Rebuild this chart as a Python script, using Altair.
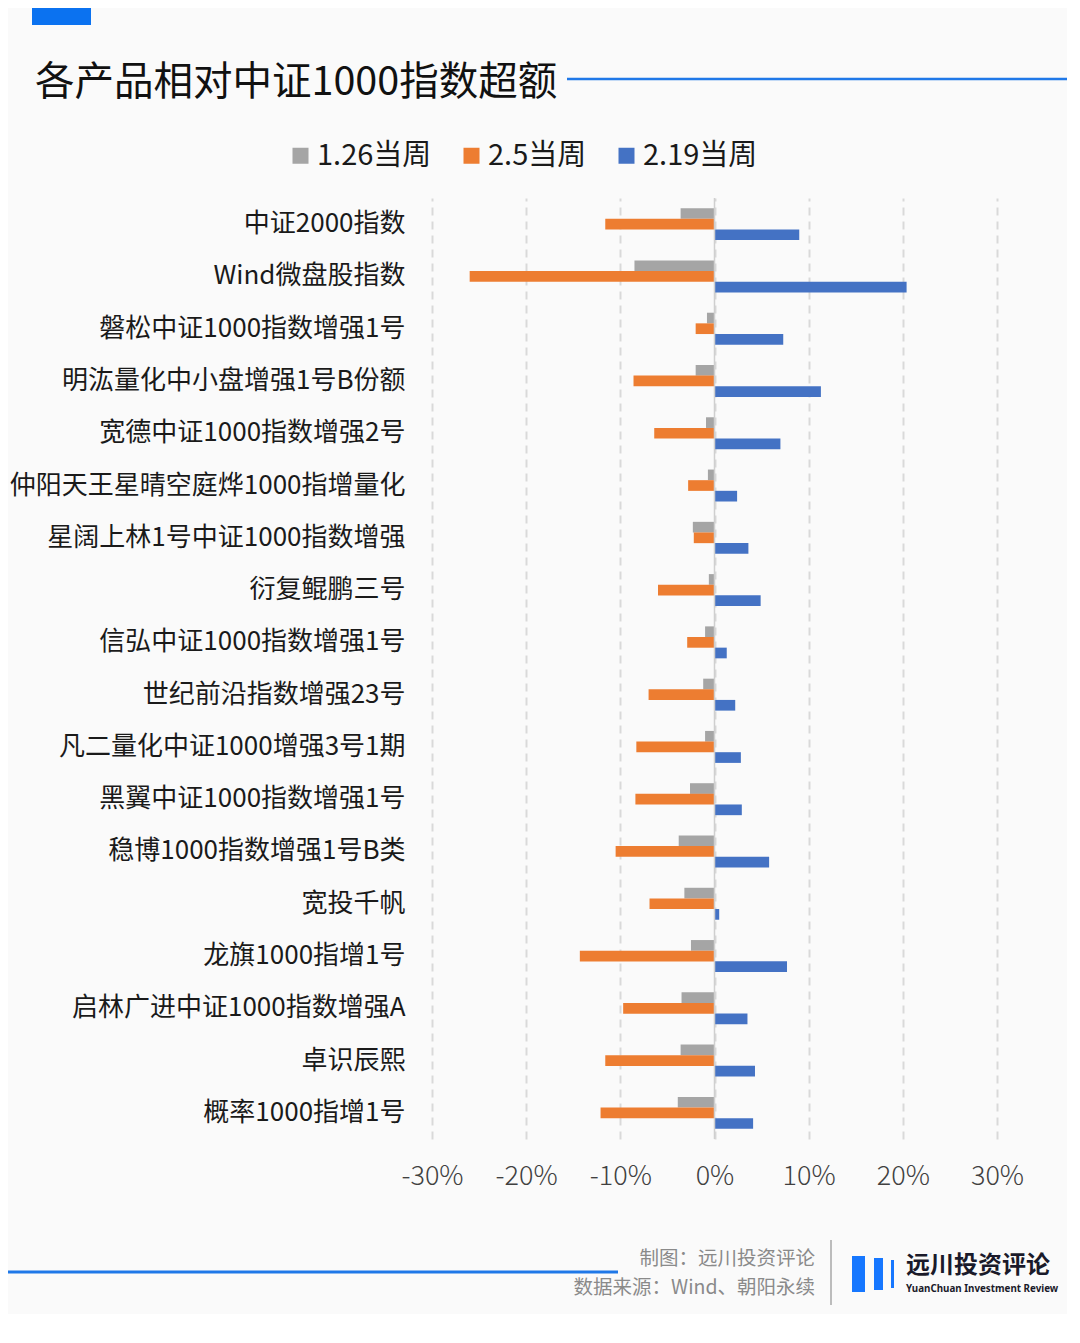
import altair as alt
import pandas as pd

# ---------------- data ----------------
categories = [
    "中证2000指数",
    "Wind微盘股指数",
    "磐松中证1000指数增强1号",
    "明汯量化中小盘增强1号B份额",
    "宽德中证1000指数增强2号",
    "仲阳天王星晴空庭烨1000指增量化",
    "星阔上林1号中证1000指数增强",
    "衍复鲲鹏三号",
    "信弘中证1000指数增强1号",
    "世纪前沿指数增强23号",
    "凡二量化中证1000增强3号1期",
    "黑翼中证1000指数增强1号",
    "稳博1000指数增强1号B类",
    "宽投千帆",
    "龙旗1000指增1号",
    "启林广进中证1000指数增强A",
    "卓识辰熙",
    "概率1000指增1号",
]
series = ["1.26当周", "2.5当周", "2.19当周"]
colors = ["#a5a5a5", "#ed7d31", "#4472c4"]

# excess return vs CSI 1000, in percent
w0126 = [-3.6, -8.5, -0.8, -2.0, -0.9, -0.7, -2.3, -0.6, -1.0, -1.2, -1.0, -2.6, -3.8, -3.2, -2.5, -3.5, -3.6, -3.9]
w0205 = [-11.6, -26.0, -2.0, -8.6, -6.4, -2.8, -2.2, -6.0, -2.9, -7.0, -8.3, -8.4, -10.5, -6.9, -14.3, -9.7, -11.6, -12.1]
w0219 = [9.0, 20.4, 7.3, 11.3, 7.0, 2.4, 3.6, 4.9, 1.3, 2.2, 2.8, 2.9, 5.8, 0.5, 7.7, 3.5, 4.3, 4.1]

x_ticks = [-0.3, -0.2, -0.1, 0.0, 0.1, 0.2, 0.3]

title_text = "各产品相对中证1000指数超额"
credit_text = "制图：远川投资评论"
source_text = "数据来源：Wind、朝阳永续"
logo_cn = "远川投资评论"
logo_en = "YuanChuan Investment Review"

rows = []
for s, vals in zip(series, [w0126, w0205, w0219]):
    for c, v in zip(categories, vals):
        rows.append({"category": c, "series": s, "value": v / 100.0})
df = pd.DataFrame(rows)

FONT = "Noto Sans CJK SC"
one = pd.DataFrame({"k": [0]})

# ---------------- main bars ----------------
bars = alt.Chart(df).mark_bar(size=10.7).encode(
    x=alt.X(
        "value:Q",
        scale=alt.Scale(domain=[-0.3, 0.3], nice=False, zero=False),
        axis=alt.Axis(
            values=x_ticks,
            labelExpr="(datum.value < 0 ? '-' : '') + format(abs(datum.value) * 100, '.0f') + '%'",
            title=None,
            domain=False,
            ticks=False,
            grid=True,
            gridDash=[8, 6],
            gridColor="#d9d9d9",
            gridWidth=2,
            labelFontSize=27,
            labelFont=FONT,
            labelFontWeight=300,
            labelColor="#404040",
            labelPadding=24,
            labelFlush=False,
            labelOverlap=False,
        ),
    ),
    y=alt.Y(
        "category:N",
        sort=categories,
        scale=alt.Scale(paddingInner=0.39, paddingOuter=0.195),
        axis=alt.Axis(
            title=None,
            domain=False,
            ticks=False,
            grid=False,
            labelFontSize=26,
            labelFont=FONT,
            labelColor="#1a1a1a",
            labelPadding=27,
            labelLimit=600,
        ),
    ),
    yOffset=alt.YOffset("series:N", sort=series, scale=alt.Scale(paddingInner=0, paddingOuter=0)),
    color=alt.Color(
        "series:N",
        sort=series,
        scale=alt.Scale(domain=series, range=colors),
        legend=alt.Legend(
            title=None,
            orient="none",
            direction="horizontal",
            legendX=-146,
            legendY=-57,
            symbolType="square",
            symbolSize=256,
            symbolStrokeWidth=0,
            labelFontSize=29,
            labelFont=FONT,
            labelColor="#1a1a1a",
            labelOffset=2,
            columnPadding=25,
            padding=0,
        ),
    ),
)

zero_rule = alt.Chart(one).mark_rule(color="#cfcfcf", strokeWidth=1.5).encode(
    x=alt.datum(0)
)

# ---------------- decorations ----------------
top_rect = alt.Chart(one).mark_rect(color="#0b72f0").encode(
    x=alt.value(-400), x2=alt.value(-341), y=alt.value(-190), y2=alt.value(-173)
)
title = alt.Chart(one).mark_text(
    text=title_text, font=FONT, fontSize=39.5, color="#111111", align="left", baseline="middle"
).encode(x=alt.value(-397), y=alt.value(-115))
title_line = alt.Chart(one).mark_rule(color="#1f78e8", strokeWidth=2.5).encode(
    x=alt.value(135), x2=alt.value(650), y=alt.value(-119)
)

credit = alt.Chart(one).mark_text(
    text=credit_text, font=FONT, fontSize=19.5, color="#8a8a8a", align="right", baseline="middle"
).encode(x=alt.value(383), y=alt.value(1061))
source = alt.Chart(one).mark_text(
    text=source_text, font=FONT, fontSize=19.5, color="#8a8a8a", align="right", baseline="middle"
).encode(x=alt.value(383), y=alt.value(1090))
foot_line = alt.Chart(one).mark_rule(color="#1f78e8", strokeWidth=3).encode(
    x=alt.value(-440), x2=alt.value(186), y=alt.value(1074)
)
vline = alt.Chart(one).mark_rule(color="#7f7f7f", strokeWidth=1).encode(
    x=alt.value(399), y=alt.value(1042), y2=alt.value(1107)
)
logo_b1 = alt.Chart(one).mark_rect(color="#1677ff").encode(
    x=alt.value(420), x2=alt.value(433), y=alt.value(1058), y2=alt.value(1094)
)
logo_b2 = alt.Chart(one).mark_rect(color="#1677ff").encode(
    x=alt.value(442), x2=alt.value(451), y=alt.value(1060), y2=alt.value(1092)
)
logo_b3 = alt.Chart(one).mark_rect(color="#1677ff").encode(
    x=alt.value(459), x2=alt.value(462), y=alt.value(1062), y2=alt.value(1090)
)
logo_t1 = alt.Chart(one).mark_text(
    text=logo_cn, font=FONT, fontSize=24, fontWeight="bold", color="#1a1a2a",
    align="left", baseline="middle"
).encode(x=alt.value(474), y=alt.value(1068))
logo_t2 = alt.Chart(one).mark_text(
    text=logo_en, font="Noto Sans", fontSize=9.8, fontWeight="bold", color="#1a1a2a",
    align="left", baseline="middle"
).encode(x=alt.value(474), y=alt.value(1091))

chart = alt.layer(
    bars, zero_rule, top_rect, title, title_line, credit, source, foot_line,
    vline, logo_b1, logo_b2, logo_b3, logo_t1, logo_t2
).properties(
    width=565,
    height=941,
    autosize=alt.AutoSizeParams(type="none"),
    padding={"left": 424, "top": 190, "right": 70, "bottom": 175},
    background="#fafafa",
).configure_view(strokeWidth=0)

chart.save("out.html", embed_options={"renderer": "svg", "actions": False})
